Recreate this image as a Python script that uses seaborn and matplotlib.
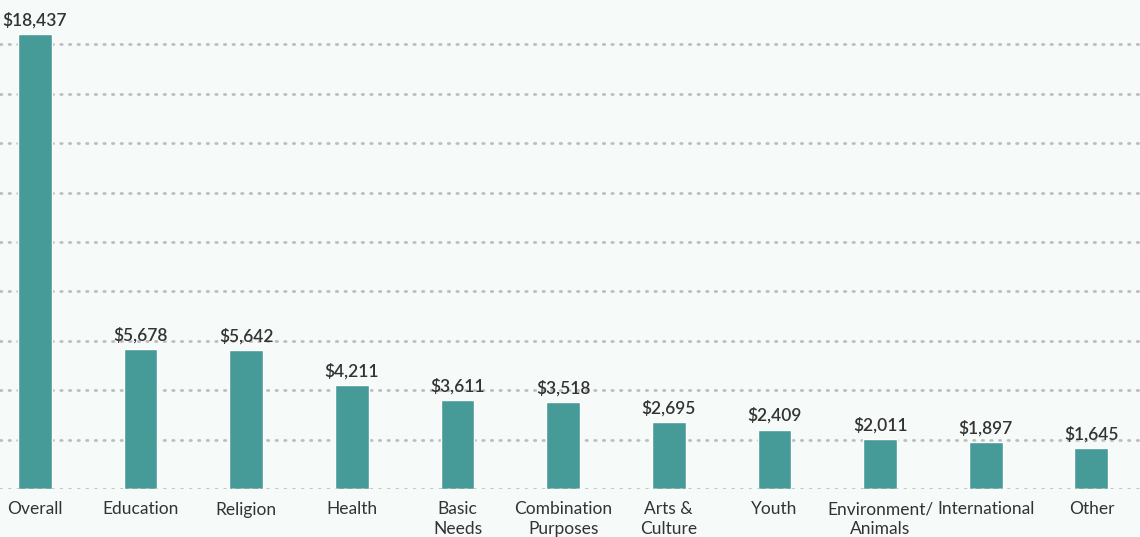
import pandas as pd
import matplotlib.pyplot as plt
import seaborn as sns

categories = ['Overall', 'Education', 'Religion', 'Health', 'Basic\nNeeds',
              'Combination\nPurposes', 'Arts &\nCulture', 'Youth',
              'Environment/\nAnimals', 'International', 'Other']
values = [18437, 5678, 5642, 4211, 3611, 3518, 2695, 2409, 2011, 1897, 1645]

df = pd.DataFrame({'category': categories, 'value': values})

bg = '#F6FAF9'
teal = '#469B98'
text_col = '#333333'

sns.set_theme(style='white')
plt.rcParams['font.family'] = ['Lato', 'DejaVu Sans']

fig = plt.figure(figsize=(11.4, 5.37), dpi=100, facecolor=bg)
ax = fig.add_axes([0, 48 / 537, 1, 489 / 537])
ax.set_facecolor(bg)

sns.barplot(data=df, x='category', y='value', color=teal, width=0.32,
            saturation=1, ax=ax, zorder=3)

# dotted grid every 2000
for yv in range(2000, 20000, 2000):
    ax.axhline(yv, color='#BDBDBD', lw=2, ls=(0, (0.5, 2.6)),
               dash_capstyle='round', zorder=1)
ax.axhline(0, color='#BDBDBD', lw=2, ls=(0, (0.5, 2.6)),
           dash_capstyle='round', zorder=4)

for i, v in enumerate(values):
    ax.text(i, v + 220, f'${v:,}', ha='center', va='bottom',
            fontsize=12.5, fontweight='semibold', color=text_col)

ax.set_xlim(-0.33, 10.46)
ax.set_ylim(0, 19800)
ax.set_yticks([])
ax.set_xlabel('')
ax.set_ylabel('')
ax.tick_params(axis='x', length=0, pad=9, labelsize=12.5, labelcolor=text_col)
for lbl in ax.get_xticklabels():
    lbl.set_linespacing(1.25)
    lbl.set_verticalalignment('top')
sns.despine(ax=ax, left=True, bottom=True)

fig.savefig('out.png', dpi=100, facecolor=bg)
